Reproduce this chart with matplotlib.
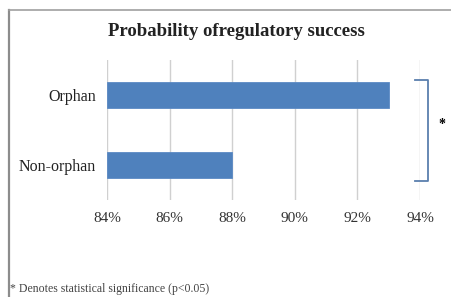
import matplotlib
matplotlib.use("Agg")
import matplotlib.pyplot as plt
from matplotlib.lines import Line2D

categories = ["Non-orphan", "Orphan"]
values = [88.0, 93.0]
xticks = [84, 86, 88, 90, 92, 94]
xtick_labels = ["84%", "86%", "88%", "90%", "92%", "94%"]
title = "Probability ofregulatory success"
footnote = "* Denotes statistical significance (p<0.05)"

serif = ["Liberation Serif", "DejaVu Serif"]

fig = plt.figure(figsize=(4.52, 2.97), dpi=100)
fig.patch.set_facecolor("white")

# outer frame (left and top edges visible)
fx, fy = 8.5 / 452, 1 - 10 / 297
fig.lines.append(Line2D([fx, fx], [-0.05, fy], transform=fig.transFigure,
                        color="#8c8c8c", linewidth=1.6))
fig.lines.append(Line2D([fx, 1.05], [fy, fy], transform=fig.transFigure,
                        color="#a0a0a0", linewidth=1.2))

ax = fig.add_axes([107 / 452, 1 - 200 / 297, (420 - 107) / 452, 140 / 297])
ax.barh(range(len(categories)), [v - xticks[0] for v in values], left=xticks[0],
        height=0.36, color="#4F81BD", edgecolor="#5b8ac4", linewidth=0.6, zorder=3)
ax.set_xlim(xticks[0], xticks[-1])
ax.set_ylim(-0.5, 1.5)
ax.set_xticks(xticks)
ax.set_xticklabels(xtick_labels, fontfamily=serif, fontsize=11, color="#333333")
ax.set_yticks(range(len(categories)))
ax.set_yticklabels(categories, fontfamily=serif, fontsize=11.5, color="#222222")
ax.tick_params(length=0)
ax.tick_params(axis="y", pad=8)
ax.tick_params(axis="x", pad=9)
ax.grid(axis="x", color="#d0d0d0", linewidth=1.0, zorder=0)
for s in ax.spines.values():
    s.set_visible(False)
ax.set_axisbelow(True)

# significance bracket
bx0, bx1 = 93.84, 94.26
ax.plot([bx0, bx1, bx1, bx0], [1.214, 1.214, -0.229, -0.229], color="#5a7fae",
        linewidth=1.3, clip_on=False, solid_joinstyle="round")
ax.text(94.7, 0.58, "*", fontsize=10, ha="center", va="center",
        fontfamily=serif, fontweight="bold", clip_on=False)

fig.text(236 / 452, 1 - 31 / 297, title, ha="center", va="center",
         fontfamily=serif, fontweight="bold", fontsize=13.5, color="#222222")
fig.text(10 / 452, 1 - 289 / 297, footnote, ha="left", va="center",
         fontfamily=serif, fontsize=8.5, color="#444444")

fig.savefig("out.png", dpi=100)
